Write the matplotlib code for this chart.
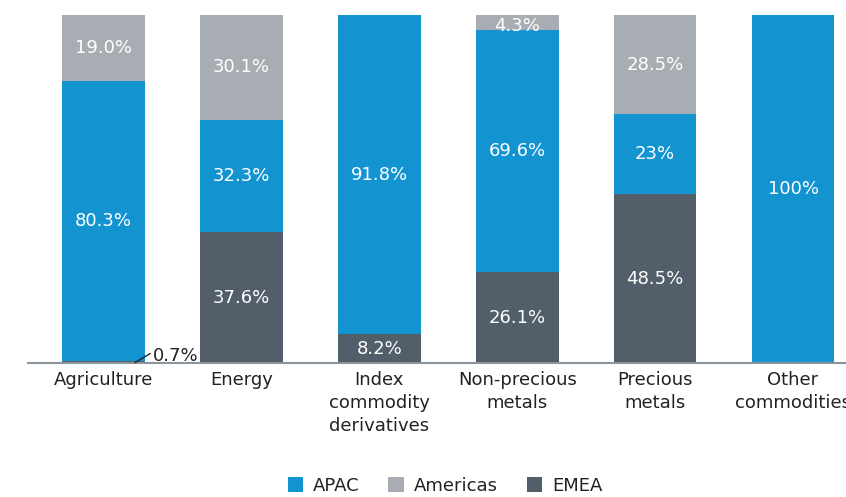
import matplotlib
matplotlib.use('Agg')
import matplotlib.pyplot as plt
import numpy as np

categories = ['Agriculture', 'Energy', 'Index\ncommodity\nderivatives',
              'Non-precious\nmetals', 'Precious\nmetals', 'Other\ncommodities']
emea = [0.7, 37.6, 8.2, 26.1, 48.5, 0]
apac = [80.3, 32.3, 91.8, 69.6, 23, 100]
americas = [19.0, 30.1, 0, 4.3, 28.5, 0]

emea_labels = ['0.7%', '37.6%', '8.2%', '26.1%', '48.5%', '']
apac_labels = ['80.3%', '32.3%', '91.8%', '69.6%', '23%', '100%']
americas_labels = ['19.0%', '30.1%', '', '4.3%', '28.5%', '']

c_apac = '#1493d1'
c_amer = '#a7adb3'
c_emea = '#525e6a'

W, H = 846, 497
fig = plt.figure(figsize=(W / 100, H / 100), dpi=100)
# axes runs off the right edge like the original crop
left, right, top, bottom = 28, 862, 15, 363
ax = fig.add_axes([left / W, 1 - bottom / H, (right - left) / W, (bottom - top) / H])

x = np.arange(len(categories))
width = 0.6
b1 = ax.bar(x, emea, width, color=c_emea, label='EMEA')
b2 = ax.bar(x, apac, width, bottom=emea, color=c_apac, label='APAC')
b3 = ax.bar(x, americas, width, bottom=np.add(emea, apac), color=c_amer, label='Americas')

fs = 13
for bars, labels, vals in [(b1, emea_labels, emea), (b2, apac_labels, apac), (b3, americas_labels, americas)]:
    for rect, lab, v in zip(bars, labels, vals):
        if not lab or v < 3:
            continue
        cx = rect.get_x() + rect.get_width() / 2
        cy = rect.get_y() + rect.get_height() / 2
        if v < 6:
            cy -= 1.0  # thin slice: label sits a bit low, as in the original
        ax.text(cx, cy, lab, ha='center', va='center', color='white', fontsize=fs)

# small EMEA slice for agriculture gets a callout
ax.annotate(emea_labels[0], xy=(0.228, 0.1), xytext=(0.359, 2.15), textcoords='data',
            ha='left', va='center', fontsize=fs, color='#222222',
            arrowprops=dict(arrowstyle='-', color='#222222', lw=1, shrinkA=0, shrinkB=0,
                            relpos=(0, 0.7)))

ax.set_xlim(-75.5 / 138, 5.5)
ax.set_ylim(0, 100)
ax.set_xticks(x)
ax.set_xticklabels(categories, fontsize=fs, color='#222222', linespacing=1.35)
ax.tick_params(axis='x', length=0, pad=6)
ax.set_yticks([])
for s in ['top', 'right', 'left']:
    ax.spines[s].set_visible(False)
ax.spines['bottom'].set_color('#8c959c')
ax.spines['bottom'].set_linewidth(1.5)

handles = [b2, b3, b1]
leg = ax.legend(handles, ['APAC', 'Americas', 'EMEA'], loc='center', bbox_to_anchor=(0.5, -0.353),
                ncol=3, frameon=False, fontsize=fs, handlelength=0.85, handleheight=0.85,
                handletextpad=0.55, columnspacing=1.6)
for t in leg.get_texts():
    t.set_color('#222222')

fig.savefig('out.png', dpi=100)
